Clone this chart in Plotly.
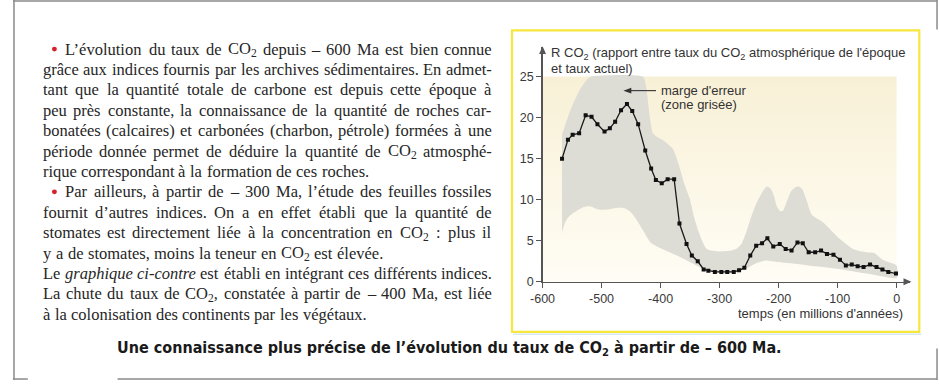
import unicodedata
import plotly.graph_objects as go

W, H = 939, 387

# ---------------- data ----------------
ages = [-567, -557, -549, -538, -527, -517, -507, -495, -486, -477, -467, -457, -448, -438,
        -426, -416, -408, -398, -388, -377, -368, -356, -347, -337, -327, -319, -308, -297,
        -287, -276, -267, -258, -248, -238, -228, -219, -209, -198, -188, -178, -168, -159,
        -149, -138, -128, -118, -107, -96, -86, -76, -66, -56, -45, -34, -24, -14, -1]
rco2 = [15.0, 17.3, 17.9, 18.1, 20.3, 20.1, 19.2, 18.3, 18.7, 19.5, 20.9, 21.65, 20.8, 19.2,
        16.0, 13.8, 12.4, 12.0, 12.5, 12.5, 7.1, 4.6, 3.2, 2.5, 1.5, 1.35, 1.2, 1.2,
        1.2, 1.2, 1.4, 1.7, 3.2, 4.4, 4.7, 5.3, 4.3, 4.6, 4.0, 3.8, 4.8, 4.7,
        3.6, 3.6, 3.8, 3.4, 3.3, 2.7, 2.0, 2.1, 1.9, 1.8, 2.1, 1.8, 1.5, 1.2, 1.0]

upper_ages = [-567, -563, -555, -545, -535, -525, -518, -430, -425, -418, -413, -405, -397,
              -388, -380, -375, -368, -360, -350, -343, -335, -322, -300, -280, -270, -263,
              -255, -247, -238, -230, -224, -219, -213, -208, -203, -197, -192, -186, -179,
              -172, -166, -160, -152, -144, -124, -96, -74, -52, -38, -24, 0]
upper_vals = [18.0, 18.8, 20.5, 22.2, 23.6, 24.6, 25.0, 25.0, 24.0, 20.0, 18.1, 17.6, 17.3,
              16.8, 16.3, 15.5, 14.0, 12.0, 10.0, 7.8, 6.0, 4.0, 3.7, 3.8, 4.1, 4.6,
              6.0, 7.8, 9.5, 10.6, 11.3, 11.6, 11.3, 10.5, 9.2, 8.6, 8.7, 9.8, 11.0,
              11.5, 11.6, 11.3, 9.8, 8.2, 7.2, 5.2, 4.0, 3.6, 3.5, 2.7, 2.0]
lower_ages = [-567, -562, -555, -545, -530, -520, -505, -490, -475, -462, -452, -443, -430,
              -417, -400, -378, -358, -339, -325, -311, -290, -270, -255, -240, -222, -200,
              -150, -100, -50, 0]
lower_vals = [6.0, 7.2, 8.0, 8.5, 9.1, 9.2, 8.8, 8.8, 9.0, 9.0, 8.6, 7.8, 6.3,
              4.8, 4.1, 3.4, 2.7, 2.0, 1.5, 1.2, 1.0, 1.2, 1.6, 2.2, 2.6, 2.4,
              2.0, 1.6, 1.0, 0.5]

x_ticks = [-600, -500, -400, -300, -200, -100, 0]
x_tick_labels = ["-600", "-500", "-400", "-300", "-200", "-100", "0"]
y_ticks = [0, 5, 10, 15, 20, 25]
y_tick_labels = ["0", "5", "10", "15", "20", "25"]

y_title_1 = "R CO<sub>2</sub> (rapport entre taux du CO<sub>2</sub> atmosphérique de l'époque"
y_title_2 = "et taux actuel)"
x_title = "temps (en millions d'années)"
band_label_1 = "marge d'erreur"
band_label_2 = "(zone grisée)"
caption = "Une connaissance plus précise de l’évolution du taux de CO<sub>2</sub> à partir de – 600 Ma."

# (text, starts with bullet, justified)
body_lines = [
    ("L’évolution du taux de CO<sub>2</sub> depuis – 600 Ma est bien connue", True, True),
    ("grâce aux indices fournis par les archives sédimentaires. En admet-", False, True),
    ("tant que la quantité totale de carbone est depuis cette époque à", False, True),
    ("peu près constante, la connaissance de la quantité de roches car-", False, True),
    ("bonatées (calcaires) et carbonées (charbon, pétrole) formées à une", False, True),
    ("période donnée permet de déduire la quantité de CO<sub>2</sub> atmosphé-", False, True),
    ("rique correspondant à la formation de ces roches.", False, False),
    ("Par ailleurs, à partir de – 300 Ma, l’étude des feuilles fossiles", True, True),
    ("fournit d’autres indices. On a en effet établi que la quantité de", False, True),
    ("stomates est directement liée à la concentration en CO<sub>2</sub> : plus il", False, True),
    ("y a de stomates, moins la teneur en CO<sub>2</sub> est élevée.", False, False),
    ("Le <i>graphique ci-contre</i> est établi en intégrant ces différents indices.", False, True),
    ("La chute du taux de CO<sub>2</sub>, constatée à partir de – 400 Ma, est liée", False, True),
    ("à la colonisation des continents par les végétaux.", False, False),
]

# ---------------- helpers ----------------
def px(x):
    return x / W


def py(y):
    return 1 - y / H


def path(points):
    return "M " + " L ".join(f"{px(a):.5f},{py(b):.5f}" for a, b in points) + " Z"


ROMAN = dict(zip("abcdefghijklmnopqrstuvwxyz",
                 [444, 500, 444, 500, 444, 333, 500, 500, 278, 278, 500, 278, 778, 500, 500,
                  500, 500, 333, 389, 278, 500, 500, 722, 500, 500, 444]))
ROMAN.update(dict(zip("ABCDEFGHIJKLMNOPQRSTUVWXYZ",
                      [722, 667, 667, 722, 611, 556, 722, 722, 333, 389, 722, 611, 889, 722,
                       722, 556, 722, 667, 556, 611, 722, 722, 944, 722, 722, 611])))
ROMAN.update({c: 500 for c in "0123456789"})
ROMAN.update({" ": 250, "’": 333, "'": 180, "(": 333, ")": 333, ",": 250, "-": 333,
              ".": 250, ":": 278, "–": 500})
ITAL = dict(ROMAN)
ITAL.update(dict(zip("abcdefghijklmnopqrstuvwxyz",
                     [500, 500, 444, 500, 444, 278, 500, 500, 278, 278, 444, 278, 722, 500,
                      500, 500, 500, 389, 389, 278, 500, 444, 667, 444, 444, 389])))


def width(markup, fs):
    i, w, sub, ital = 0, 0.0, False, False
    while i < len(markup):
        if markup[i] == "<":
            j = markup.index(">", i)
            tag = markup[i + 1:j]
            if tag == "sub":
                sub = True
            elif tag == "/sub":
                sub = False
            elif tag == "i":
                ital = True
            elif tag == "/i":
                ital = False
            i = j + 1
            continue
        ch = markup[i]
        base = unicodedata.normalize("NFD", ch)[0]
        table = ITAL if ital else ROMAN
        cw = table.get(ch, table.get(base, 500))
        if sub:
            cw *= 0.7
        w += cw
        i += 1
    return w * fs / 1000.0


def split_words(line):
    words, ital = [], False
    for tok in line.split(" "):
        start_ital = ital
        if "<i>" in tok:
            ital = True
        if "</i>" in tok:
            ital = False
        clean = tok.replace("<i>", "").replace("</i>", "")
        if start_ital or "<i>" in tok:
            clean = "<i>" + clean + "</i>"
        words.append(clean)
    return words


# ---------------- figure ----------------
fig = go.Figure()

# pale yellow plot background (vertical gradient)
fig.add_trace(go.Scatter(
    x=[-600, 0, 0, -600, -600], y=[0, 0, 25, 25, 0], mode="lines",
    line=dict(width=0), fill="toself",
    fillgradient=dict(type="vertical", colorscale=[[0, "#fffdf5"], [1, "#f8f0d6"]]),
    hoverinfo="skip", showlegend=False))

# error band
fig.add_trace(go.Scatter(
    x=upper_ages + lower_ages[::-1], y=upper_vals + lower_vals[::-1],
    mode="lines", line=dict(width=0, shape="spline", smoothing=0.6), fill="toself",
    fillcolor="#dddcd5", hoverinfo="skip", showlegend=False))

# RCO2 curve
fig.add_trace(go.Scatter(
    x=ages, y=rco2, mode="lines+markers",
    line=dict(color="#1a1a1a", width=1.3),
    marker=dict(symbol="square", size=4, color="#111111"),
    showlegend=False))

axis_col = "#555555"
tick_font = dict(family="Liberation Sans, Arial, sans-serif", size=12.5, color="#3a3a3a")
x_px0, x_px600 = 537, 896
ppm = (x_px600 - x_px0) / 600.0
x_end_px = 910
y_px0, y_px25 = 287, 78
ppu = (y_px0 - y_px25) / 25.0
y_end_px = 48

fig.update_xaxes(
    domain=[px(x_px0), px(x_end_px)], range=[-600, -600 + (x_end_px - x_px0) / ppm],
    tickvals=x_ticks, ticktext=x_tick_labels, ticks="outside", ticklen=5, tickwidth=1.2,
    tickcolor=axis_col, showline=True, linecolor=axis_col, linewidth=1.3,
    showgrid=False, zeroline=False, tickfont=tick_font, fixedrange=True)
fig.update_yaxes(
    domain=[py(y_px0), py(y_end_px)], range=[0, (y_px0 - y_end_px) / ppu],
    tickvals=y_ticks, ticktext=y_tick_labels, ticks="outside", ticklen=5, tickwidth=1.2,
    tickcolor=axis_col, showline=True, linecolor=axis_col, linewidth=1.3,
    showgrid=False, zeroline=False, tickfont=tick_font, fixedrange=True)

annotations = []
shapes = []

# axis arrowheads (filled triangles)
shapes.append(dict(type="path", xref="paper", yref="paper",
                   path=path([(x_end_px + 1, y_px0), (x_end_px - 7, y_px0 - 3.5), (x_end_px - 7, y_px0 + 3.5)]),
                   fillcolor=axis_col, line=dict(width=0)))
shapes.append(dict(type="path", xref="paper", yref="paper",
                   path=path([(x_px0, y_end_px - 1), (x_px0 - 3.5, y_end_px + 7), (x_px0 + 3.5, y_end_px + 7)]),
                   fillcolor=axis_col, line=dict(width=0)))

lab_font = dict(family="Liberation Sans, Arial, sans-serif", size=13, color="#333333")
for txt, xx, yy, anchor in [(y_title_1, 546, 54, "left"), (y_title_2, 546, 70, "left"),
                            (band_label_1, 657, 92, "left"), (band_label_2, 657, 106, "left"),
                            (x_title, 902, 319, "right")]:
    annotations.append(dict(x=px(xx), y=py(yy), xref="paper", yref="paper", text=txt,
                            showarrow=False, xanchor=anchor, yanchor="middle", font=lab_font,
                            borderpad=0, borderwidth=0))

# arrow pointing to the error band
shapes.append(dict(type="line", xref="paper", yref="paper", x0=px(652), x1=px(624),
                   y0=py(92.3), y1=py(92.3), line=dict(color="#333333", width=1.1)))
shapes.append(dict(type="path", xref="paper", yref="paper",
                   path=path([(619, 92.3), (627, 89.3), (627, 95.3)]),
                   fillcolor="#333333", line=dict(width=0)))

# body text, justified
FS = 16.5
body_font = dict(family="Liberation Serif, Times New Roman, serif", size=FS, color="#262626")
left_px, right_px, first_px = 30, 485, 53
line0, step = 50, 20.77
for k, (line, bullet, justify) in enumerate(body_lines):
    yy = line0 + step * k
    x0 = first_px if bullet else left_px
    words = split_words(line)
    ws = [width(w, FS) for w in words]
    if justify and len(words) > 1:
        gap = (right_px - x0 - sum(ws)) / (len(words) - 1)
    else:
        gap = 0.3 * FS
    xc = x0
    for w, wd in zip(words, ws):
        annotations.append(dict(x=px(xc), y=py(yy), xref="paper", yref="paper", text=w,
                                showarrow=False, xanchor="left", yanchor="middle",
                                font=body_font, borderpad=0, borderwidth=0))
        xc += wd + gap
    if bullet:
        shapes.append(dict(type="circle", xref="paper", yref="paper",
                           x0=px(39.5), x1=px(44.5), y0=py(yy - 2.5), y1=py(yy + 2.5),
                           fillcolor="#d6202e", line=dict(width=0)))

# caption
annotations.append(dict(x=px(443), y=py(355), xref="paper", yref="paper", text="<b>" + caption + "</b>",
                        showarrow=False, xanchor="center", yanchor="middle",
                        font=dict(family="Liberation Sans Narrow, DejaVu Sans Condensed, Arial Narrow, sans-serif",
                                  size=16, color="#1a1a1a"),
                        borderpad=0, borderwidth=0))

# yellow frame around chart
shapes.append(dict(type="rect", xref="paper", yref="paper", x0=px(506), x1=px(919),
                   y0=py(338), y1=py(31), line=dict(color="#f7e63c", width=2.2),
                   fillcolor="rgba(0,0,0,0)", layer="below"))
shapes.append(dict(type="line", xref="paper", yref="paper", x0=px(507), x1=px(921),
                   y0=py(340.5), y1=py(340.5), line=dict(color="#d6e8f2", width=1.5)))
# page frame
frame_col = "#8a8a8a"
for (xa, ya, xb, yb) in [(0, 1, 937, 1), (1, 0, 1, 387), (937, 0, 937, 30),
                         (937, 355, 937, 387), (0, 386, 15, 386), (106, 386, 937, 386)]:
    shapes.append(dict(type="line", xref="paper", yref="paper", x0=px(xa), x1=px(xb),
                       y0=py(ya), y1=py(yb), line=dict(color=frame_col, width=1.5)))

fig.update_layout(width=W, height=H, margin=dict(l=0, r=0, t=0, b=0), autosize=False,
                  paper_bgcolor="white", plot_bgcolor="rgba(0,0,0,0)",
                  showlegend=False, annotations=annotations, shapes=shapes)

fig.write_html("out.html",
               config={"displayModeBar": False, "responsive": False, "staticPlot": True},
               post_script=("document.documentElement.style.margin='0';"
                            "document.documentElement.style.overflow='hidden';"
                            "document.body.style.margin='0';document.body.style.padding='0';"
                            "document.body.style.overflow='hidden';"))
